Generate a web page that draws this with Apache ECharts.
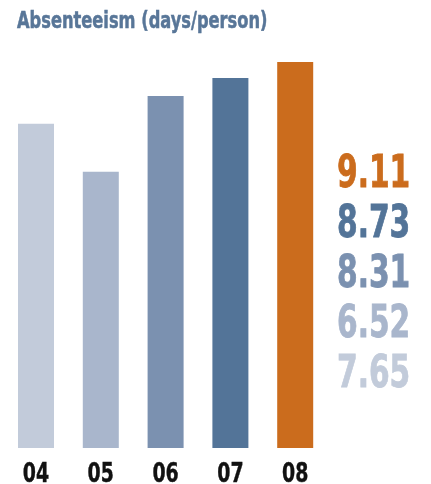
<!DOCTYPE html>
<html>
<head>
<meta charset="utf-8">
<script src="https://cdn.jsdelivr.net/npm/echarts@6/dist/echarts.min.js"></script>
<style>
  html, body { margin: 0; padding: 0; background: #fff; }
  #chart { width: 431px; height: 484px; }
</style>
</head>
<body>
<div id="chart"></div>
<script>
// Absenteeism by year
const years = ['04', '05', '06', '07', '08'];
const daysPerPerson = [7.65, 6.52, 8.31, 8.73, 9.11];
const barColors = ['#c2cbda', '#a9b6cc', '#7b91b0', '#537498', '#cb6c1d'];
const titleText = 'Absenteeism (days/person)';

const FONT = '"DejaVu Sans Condensed", "DejaVu Sans", sans-serif';

const chart = echarts.init(document.getElementById('chart'));
chart.setOption({
  animation: false,
  grid: { left: 3.6, right: 103.4, top: 62, bottom: 36 },
  xAxis: {
    type: 'category',
    data: years,
    axisLine: { show: false },
    axisTick: { show: false },
    axisLabel: { show: false }
  },
  yAxis: { type: 'value', min: 0, max: 9.11, show: false },
  series: [{
    type: 'bar',
    barWidth: 36,
    data: daysPerPerson.map((v, i) => ({ value: v, itemStyle: { color: barColors[i] } }))
  }]
});

// Condensed bold text, narrowed horizontally, with a thin outline for extra weight
function narrowText(x, y, text, font, fill, scaleX, align, weight) {
  return {
    type: 'text',
    x: x, y: y, scaleX: scaleX,
    style: {
      text: text, font: font, fill: fill,
      stroke: fill, lineWidth: weight || 0,
      textAlign: align || 'left', textVerticalAlign: 'top'
    }
  };
}

const graphics = [];
graphics.push(narrowText(17, 11, titleText, 'bold 22.6px ' + FONT, '#587698', 0.8, 'left', 0.5));

// Year labels under each bar, placed on the category axis
const baseY = chart.convertToPixel({ yAxisIndex: 0 }, 0);
years.forEach(y => {
  const cx = chart.convertToPixel({ xAxisIndex: 0 }, y);
  graphics.push(narrowText(cx, baseY + 13, y, 'bold 27px ' + FONT, '#111', 0.78, 'center', 0.4));
});

// Value list on the right, newest year first
years.map((y, i) => i).reverse().forEach((idx, row) => {
  graphics.push(narrowText(337, 154 + row * 50, daysPerPerson[idx].toFixed(2),
    'bold 44px ' + FONT, barColors[idx], 0.75, 'left', 0.8));
});

chart.setOption({ graphic: graphics });
</script>
</body>
</html>
